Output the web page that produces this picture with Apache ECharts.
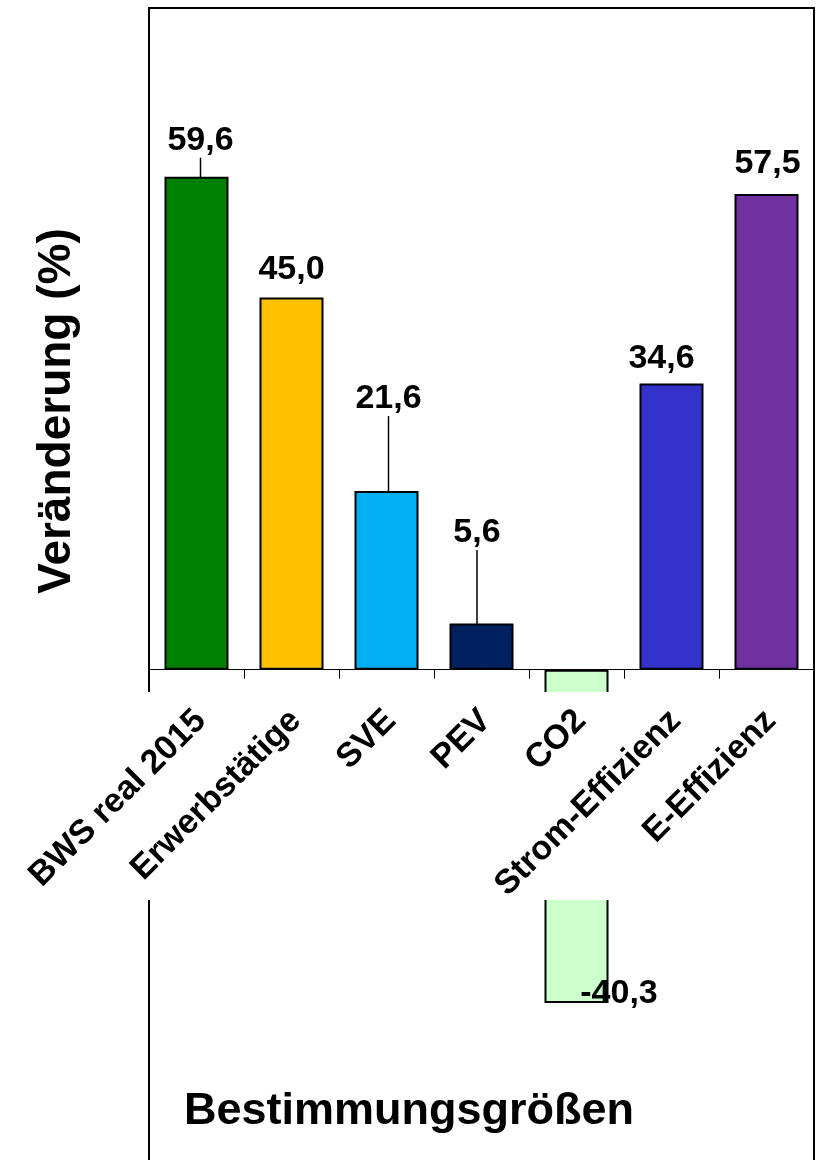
<!DOCTYPE html>
<html>
<head>
<meta charset="utf-8">
<script src="https://cdn.jsdelivr.net/npm/echarts@6/dist/echarts.min.js"></script>
<style>
  html, body { margin: 0; padding: 0; background: #fff; }
  #chart { width: 816px; height: 1160px; }
</style>
</head>
<body>
<div id="chart"></div>
<script>
// Bestimmungsgrößen and their change in percent
const categories = ['BWS real 2015', 'Erwerbstätige', 'SVE', 'PEV', 'CO2', 'Strom-Effizienz', 'E-Effizienz'];
const changes = [59.6, 45.0, 21.6, 5.6, -40.3, 34.6, 57.5];
const barColors = ['#008000', '#FFC000', '#00B0F0', '#002060', '#CCFFCC', '#3333CC', '#7030A0'];

// how far each value label is pushed away from its default spot [dx, dy]
const labelNudges = [[4, -14], [0, -6], [2, -70], [-4.5, -68.5], [42.5, -31], [-10, -2.5], [1, -8.5]];
// which labels keep a leader line to their bar
const leaderShown = [true, false, true, true, false, false, false];

const Y_MIN = -60;
const Y_MAX = 80;

const FONT = '"Liberation Sans", Arial, Helvetica, sans-serif';

const chart = echarts.init(document.getElementById('chart'), null, { renderer: 'canvas' });

const barData = changes.map((v, i) => ({
  value: v,
  itemStyle: { color: barColors[i] },
  label: { position: v < 0 ? 'bottom' : 'top' },
  labelLine: { show: leaderShown[i] }
}));

chart.setOption({
  animation: false,
  backgroundColor: '#fff',
  grid: {
    show: true,
    left: 149, right: 2, top: 8, height: 1158,
    outerBoundsMode: 'none',
    borderColor: '#000', borderWidth: 2,
    backgroundColor: 'transparent'
  },
  xAxis: {
    type: 'category',
    data: categories,
    zlevel: 1,
    axisLine: { onZero: false, lineStyle: { color: '#000', width: 1 } },
    axisTick: { show: true, length: 9, lineStyle: { color: '#000', width: 1 } },
    axisLabel: {
      interval: 0,
      rotate: 45,
      margin: 26,
      padding: [0, 11, 0, 0],
      verticalAlign: 'top',
      color: '#000',
      fontFamily: FONT,
      fontWeight: 'bold',
      fontSize: 34
    },
    splitLine: { show: false }
  },
  yAxis: {
    type: 'value',
    min: Y_MIN,
    max: Y_MAX,
    axisLine: { show: false },
    axisTick: { show: false },
    axisLabel: { show: false },
    splitLine: { show: false }
  },
  series: [{
    type: 'bar',
    data: barData,
    barWidth: 64,
    z: 2,
    itemStyle: { borderColor: '#000', borderWidth: 2 },
    label: {
      show: true,
      distance: 5,
      color: '#000',
      fontFamily: FONT,
      fontWeight: 'bold',
      fontSize: 34,
      formatter: p => p.value.toFixed(1).replace('.', ',')
    },
    labelLine: { show: true, lineStyle: { color: '#000', width: 1.5 } },
    labelLayout: p => {
      const n = labelNudges[p.dataIndex];
      return { dx: n[0], dy: n[1] };
    }
  }],
  graphic: [
    // white band behind the category labels
    {
      type: 'rect',
      z: 5,
      silent: true,
      shape: { x: 0, y: 692, width: 811, height: 208 },
      style: { fill: '#fff' }
    },
    {
      type: 'text',
      x: 57, y: 411,
      rotation: Math.PI / 2,
      style: {
        text: 'Veränderung (%)',
        fill: '#000',
        font: 'bold 46px ' + FONT,
        textAlign: 'center',
        textVerticalAlign: 'middle'
      }
    },
    {
      type: 'text',
      x: 184, y: 1112,
      style: {
        text: 'Bestimmungsgrößen',
        fill: '#000',
        font: 'bold 45px ' + FONT,
        textAlign: 'left',
        textVerticalAlign: 'middle'
      }
    }
  ]
});

// lift the category axis (line, ticks and labels) from the grid bottom up to the zero value
const zeroY = chart.convertToPixel({ yAxisIndex: 0 }, 0);
const bottomY = chart.convertToPixel({ yAxisIndex: 0 }, Y_MIN);
chart.setOption({ xAxis: { offset: zeroY - bottomY } });
</script>
</body>
</html>
